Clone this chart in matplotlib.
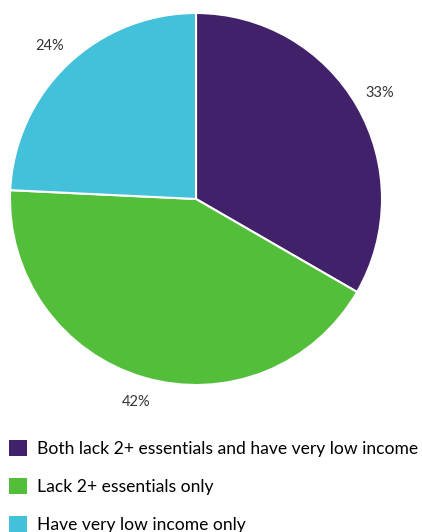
import matplotlib.pyplot as plt
from matplotlib.patches import Patch

# Share of households, %
labels = ['Both lack 2+ essentials and have very low income',
          'Lack 2+ essentials only',
          'Have very low income only']
values = [33, 42, 24]
colors = ['#41216a', '#53be3a', '#43c0da']

W, H = 422, 532
fig = plt.figure(figsize=(W / 100, H / 100), dpi=100, facecolor='white')

# pie: centre (196, 199) px, radius 186 px
cx, cy, r = 196, 199, 186
ax = fig.add_axes([(cx - r) / W, 1 - (cy + r) / H, 2 * r / W, 2 * r / H])
wedges, texts, autotexts = ax.pie(
    values, colors=colors, startangle=90, counterclock=False,
    autopct='%d%%', pctdistance=1.14, radius=1,
    wedgeprops=dict(edgecolor='white', linewidth=1.5),
    textprops=dict(fontsize=10.5, color='#333333', family='Lato'))
ax.set_xlim(-1, 1)
ax.set_ylim(-1, 1)
ax.set_aspect('equal')
ax.axis('off')

handles = [Patch(facecolor=c, edgecolor='none') for c in colors]
fig.legend(handles, labels, loc='upper left', bbox_to_anchor=(9 / W, 1 - 440 / H),
           frameon=False, prop=dict(family='Lato', size=12.6),
           handlelength=1.0, handleheight=1.0, handletextpad=0.6,
           labelspacing=1.22, borderaxespad=0, borderpad=0)

fig.savefig('out.png', dpi=100, facecolor='white')
